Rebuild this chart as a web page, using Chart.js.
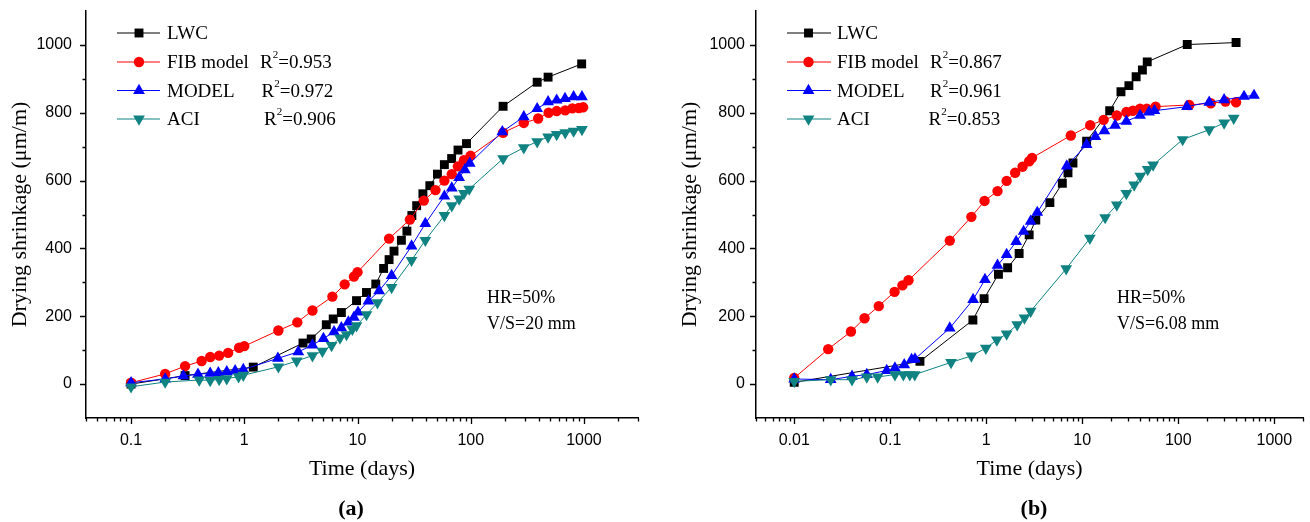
<!DOCTYPE html>
<html>
<head>
<meta charset="utf-8">
<script src="https://cdn.jsdelivr.net/npm/chart.js"></script>
<style>
  body { margin: 0; background: #fff; width: 1310px; height: 522px; position: relative; overflow: hidden; font-family: 'Liberation Serif', 'Times New Roman', serif; }
  canvas { position: absolute; top: 0; }
  #chartA { left: 0; }
  #chartB { left: 660px; }
  .note { position: absolute; font-size: 18px; line-height: 18px; color: #000; white-space: nowrap; }
  .tag { position: absolute; font-size: 22px; line-height: 22px; font-weight: bold; color: #000; transform: translateX(-50%); }
</style>
</head>
<body>
<canvas id="chartA" width="660" height="522"></canvas>
<canvas id="chartB" width="650" height="522"></canvas>

<div class="note" style="left:487px;top:288px">HR=50%</div>
<div class="note" style="left:487px;top:314px">V/S=20 mm</div>
<div class="note" style="left:1117px;top:288px">HR=50%</div>
<div class="note" style="left:1117px;top:314px">V/S=6.08 mm</div>
<div class="tag" style="left:351px;top:497px">(a)</div>
<div class="tag" style="left:1034px;top:497px">(b)</div>

<script>
// Dados

const seriesNames = ['LWC', 'FIB model', 'MODEL', 'ACI'];
const r2A = [null, '0.953', '0.972', '0.906'];
const r2B = [null, '0.867', '0.961', '0.853'];
const yTicks = [0, 200, 400, 600, 800, 1000];

// (a) V/S = 20 mm
const lwcA_t = [0.1, 0.3, 1.2, 3.3, 3.9, 5.3, 6.1, 7.2, 9.8, 12, 14.5, 17, 19, 21, 24.4, 27.3, 30.2, 33.3, 37.8, 43.5, 50.8, 58.5, 67.8, 77.2, 91.7, 193, 386, 482, 954];
const lwcA_v = [0, 25, 50, 121, 133, 175, 192, 211, 246, 270, 295, 341, 367, 392, 424, 451, 497, 526, 561, 585, 619, 647, 665, 690, 709, 819, 890, 905, 944];

const fibA_t = [0.1, 0.2, 0.3, 0.42, 0.5, 0.6, 0.72, 0.9, 1.0, 2.0, 2.94, 4.0, 6.0, 7.7, 9.3, 10, 19, 29, 38.5, 48.8, 58.5, 68, 77, 87, 99.6, 193, 294, 394, 487, 574, 683, 790, 900, 983];
const fibA_v = [4, 30, 53, 68, 80, 84, 92, 107, 112, 158, 182, 217, 258, 294, 317, 330, 429, 485, 541, 572, 600, 619, 642, 660, 673, 741, 770, 783, 800, 805, 807, 813, 814, 816];

const modA_t = [0.1, 0.2, 0.29, 0.39, 0.5, 0.59, 0.7, 0.83, 0.98, 1.98, 3.0, 4.0, 5.0, 6.2, 7.2, 8.3, 9.3, 10.1, 12.5, 15.5, 20, 30, 39.7, 58.5, 68, 79, 88.7, 98, 190, 294, 386, 482, 574, 680, 810, 960];
const modA_v = [4, 15, 24, 29, 32, 33, 36, 39, 43, 76, 95, 115, 134, 154, 166, 183, 197, 212, 245, 275, 320, 407, 473, 554, 578, 609, 632, 651, 744, 788, 812, 832, 837, 842, 847, 847];

const aciA_t = [0.1, 0.2, 0.4, 0.5, 0.6, 0.7, 0.89, 0.98, 2.0, 2.9, 4.0, 4.9, 5.9, 7.0, 8.0, 9.0, 9.8, 12, 15, 20, 30, 39.7, 58.5, 68, 79, 87, 97, 193, 294, 386, 482, 574, 683, 810, 960];
const aciA_v = [-8, 6, 12, 11, 14, 16, 22, 26, 51, 68, 84, 97, 114, 136, 146, 162, 172, 205, 240, 285, 365, 424, 497, 526, 546, 562, 575, 665, 697, 715, 729, 736, 741, 746, 751];

// (b) V/S = 6.08 mm
const lwcB_t = [0.01, 0.204, 0.726, 0.95, 1.34, 1.67, 2.2, 2.8, 3.28, 4.6, 6.2, 7.1, 8.0, 11.1, 19.3, 25.3, 30.6, 36.4, 42.3, 47.5, 124, 400];
const lwcB_v = [5, 67, 189, 252, 324, 343, 385, 440, 484, 535, 592, 623, 652, 716, 806, 862, 880, 906, 926, 950, 1001, 1007];

const fibB_t = [0.01, 0.0226, 0.039, 0.054, 0.076, 0.111, 0.134, 0.155, 0.417, 0.70, 0.96, 1.31, 1.63, 2.0, 2.39, 2.8, 3.0, 7.6, 12.1, 16.7, 22.9, 28.8, 33.7, 40, 47, 58, 130, 218, 310, 400];
const fibB_v = [18, 103, 155, 194, 230, 272, 291, 306, 423, 493, 540, 569, 599, 623, 641, 657, 667, 733, 763, 779, 792, 802, 806, 812, 812, 818, 823, 828, 833, 831];

const modB_t = [0.01, 0.024, 0.04, 0.057, 0.092, 0.112, 0.14, 0.167, 0.181, 0.417, 0.73, 0.97, 1.31, 1.63, 2.05, 2.45, 2.9, 3.4, 6.9, 11.1, 13.7, 17, 22, 28.8, 40, 49.6, 56.5, 123, 210, 300, 484, 615];
const modB_v = [15, 13, 23, 28, 40, 47, 57, 72, 74, 165, 249, 308, 350, 382, 420, 450, 480, 506, 643, 706, 730, 747, 763, 775, 792, 802, 806, 818, 831, 838, 848, 851];

const aciB_t = [0.01, 0.024, 0.04, 0.057, 0.074, 0.112, 0.137, 0.16, 0.18, 0.43, 0.70, 0.99, 1.29, 1.63, 2.1, 2.5, 2.9, 6.8, 12, 17.3, 22.9, 28.8, 34.7, 40.2, 48, 54.7, 111, 210, 300, 378];
const aciB_v = [8, 13, 13, 21, 21, 28, 28, 28, 28, 64, 83, 106, 130, 148, 175, 195, 215, 340, 430, 491, 528, 562, 587, 613, 633, 646, 721, 750, 770, 784];

// Estilos das séries
const styles = [
  { color: '#000000', pointStyle: 'rect', radius: 6.3, rotation: 0 },
  { color: '#ff0000', pointStyle: 'circle', radius: 5.2, rotation: 0 },
  { color: '#0000ff', pointStyle: 'triangle', radius: 6.8, rotation: 0 },
  { color: '#108282', pointStyle: 'triangle', radius: 6.8, rotation: 180 }
];

function pts(t, v) {
  return t.map((x, i) => ({ x: x, y: v[i] }));
}

function drawMarker(ctx, st, x, y) {
  const r = st.radius;
  ctx.beginPath();
  if (st.pointStyle === 'rect') {
    const s = r * Math.SQRT1_2;
    ctx.rect(x - s, y - s, 2 * s, 2 * s);
  } else if (st.pointStyle === 'circle') {
    ctx.arc(x, y, r, 0, Math.PI * 2);
  } else {
    let a = st.rotation * Math.PI / 180;
    ctx.moveTo(x + Math.sin(a) * r, y - Math.cos(a) * r);
    a += Math.PI * 2 / 3;
    ctx.lineTo(x + Math.sin(a) * r, y - Math.cos(a) * r);
    a += Math.PI * 2 / 3;
    ctx.lineTo(x + Math.sin(a) * r, y - Math.cos(a) * r);
    ctx.closePath();
  }
  ctx.fill();
}

// eixos com ticks maiores/menores + legenda
const decoPlugin = {
  id: 'deco',
  afterDraw(chart, args, opts) {
    const ctx = chart.ctx;
    const xs = chart.scales.x;
    const ys = chart.scales.y;
    const area = chart.chartArea;

    ctx.save();
    ctx.strokeStyle = '#000';
    ctx.lineWidth = 1.3;
    ctx.beginPath();
    for (let v = 0; v <= 1000; v += 100) {
      const py = Math.round(ys.getPixelForValue(v)) + 0.5;
      const len = v % 200 === 0 ? 6 : 3.5;
      ctx.moveTo(area.left - len, py);
      ctx.lineTo(area.left, py);
    }
    const e0 = Math.floor(Math.log10(xs.min));
    const e1 = Math.ceil(Math.log10(xs.max));
    for (let e = e0; e <= e1; e++) {
      for (let k = 1; k <= 9; k++) {
        const v = k * Math.pow(10, e);
        if (v < xs.min || v > xs.max) continue;
        const px = Math.round(xs.getPixelForValue(v)) + 0.5;
        const len = k === 1 ? 6 : 3.5;
        ctx.moveTo(px, area.bottom);
        ctx.lineTo(px, area.bottom + len);
      }
    }
    ctx.stroke();

    // legenda
    const lg = opts.legend;
    ctx.textBaseline = 'alphabetic';
    ctx.textAlign = 'left';
    seriesNames.forEach((name, i) => {
      const st = styles[i];
      const y = lg.rows[i];
      ctx.strokeStyle = st.color;
      ctx.fillStyle = st.color;
      ctx.lineWidth = 1.2;
      ctx.beginPath();
      ctx.moveTo(lg.x0, y + 0.5);
      ctx.lineTo(lg.x1, y + 0.5);
      ctx.stroke();
      drawMarker(ctx, st, lg.mx, y + 0.5);

      ctx.fillStyle = '#000';
      ctx.font = '19px "Liberation Serif", serif';
      ctx.fillText(name, lg.tx, y + 6.5);
      const r2 = lg.r2[i];
      if (r2) {
        let x = lg.rx[i];
        ctx.fillText('R', x, y + 6.5);
        x += ctx.measureText('R').width;
        ctx.font = '11px "Liberation Serif", serif';
        ctx.fillText('2', x, y - 3.5);
        x += ctx.measureText('2').width;
        ctx.font = '19px "Liberation Serif", serif';
        ctx.fillText('=' + r2, x, y + 6.5);
      }
    });
    ctx.restore();
  }
};

function makeChart(id, data, xmin, xmax, lay) {
  const datasets = data.map((d, i) => ({
    label: seriesNames[i],
    data: d,
    borderColor: styles[i].color,
    backgroundColor: styles[i].color,
    borderWidth: 1,
    pointStyle: styles[i].pointStyle,
    pointRadius: styles[i].radius,
    pointRotation: styles[i].rotation,
    pointBackgroundColor: styles[i].color,
    pointBorderColor: styles[i].color,
    pointBorderWidth: 0,
    tension: 0,
    fill: false,
    order: 3 - i
  }));

  return new Chart(document.getElementById(id), {
    type: 'line',
    data: { datasets: datasets },
    options: {
      responsive: false,
      animation: false,
      layout: { padding: { top: 11, right: lay.right, left: 0, bottom: 0 } },
      plugins: {
        legend: { display: false },
        tooltip: { enabled: false },
        deco: { legend: lay.legend }
      },
      scales: {
        x: {
          type: 'logarithmic',
          min: xmin,
          max: xmax,
          // tickLength só para afastar os rótulos; os traços são desenhados no plugin
          grid: { display: false, drawTicks: true, tickLength: 11 },
          border: { display: true, color: '#000', width: 1.5 },
          afterBuildTicks: s => { s.ticks = lay.decades.map(v => ({ value: v })); },
          afterFit: s => { s.height = 104; },
          ticks: {
            autoSkip: false,
            maxRotation: 0,
            padding: 2,
            color: '#000',
            font: { family: 'Liberation Sans', size: 16 },
            callback: v => String(v)
          },
          title: {
            display: true,
            text: 'Time (days)',
            color: '#000',
            font: { family: 'Liberation Serif', size: 22 },
            padding: { top: 0, bottom: 40 }
          }
        },
        y: {
          type: 'linear',
          min: -100,
          max: 1100,
          grid: { display: false, drawTicks: true, tickLength: lay.yPad },
          border: { display: true, color: '#000', width: 1.5 },
          afterBuildTicks: s => { s.ticks = yTicks.map(v => ({ value: v })); },
          afterFit: s => { s.width = lay.yWidth; },
          ticks: {
            padding: 1,
            color: '#000',
            font: { family: 'Liberation Sans', size: 16 },
            callback: v => String(v)
          },
          title: {
            display: true,
            text: 'Drying shrinkage (\u03bcm/m)',
            color: '#000',
            font: { family: 'Liberation Serif', size: 22 },
            padding: { top: lay.titlePad, bottom: 0 }
          }
        }
      }
    },
    plugins: [decoPlugin]
  });
}

const chartA = makeChart('chartA',
  [pts(lwcA_t, lwcA_v), pts(fibA_t, fibA_v), pts(modA_t, modA_v), pts(aciA_t, aciA_v)],
  0.04, 3000,
  {
    right: 22, yWidth: 86, yPad: 13, titlePad: 7,
    decades: [0.1, 1, 10, 100, 1000],
    legend: { x0: 117, x1: 160, mx: 139, tx: 167, rx: [0, 260, 261.5, 264], rows: [32.5, 61.5, 90, 118.5], r2: r2A }
  });

const chartB = makeChart('chartB',
  [pts(lwcB_t, lwcB_v), pts(fibB_t, fibB_v), pts(modB_t, modB_v), pts(aciB_t, aciB_v)],
  0.004, 2000,
  {
    right: 2, yWidth: 96, yPad: 10, titlePad: 17,
    decades: [0.01, 0.1, 1, 10, 100, 1000],
    legend: { x0: 127, x1: 171, mx: 148.5, tx: 177, rx: [0, 270, 270, 268.5], rows: [32.5, 61.5, 90, 118.5], r2: r2B }
  });
</script>
</body>
</html>
